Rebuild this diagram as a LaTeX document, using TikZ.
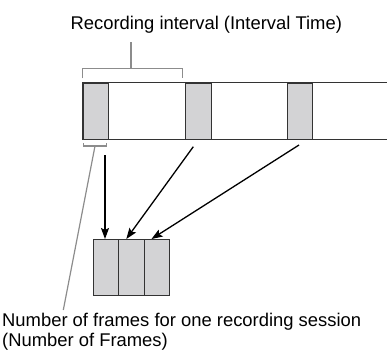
\documentclass[tikz,border=0pt]{standalone}
\usepackage{fontspec}
\setmainfont{Liberation Sans}
\usetikzlibrary{arrows.meta}
\definecolor{cellgray}{HTML}{D3D3D5}
\definecolor{brgray}{HTML}{8C8C8C}
\definecolor{edgegray}{HTML}{333333}
\tikzset{
  cell/.style={draw=edgegray, line width=1pt, fill=cellgray},
  bracket/.style={draw=brgray, line width=1.2pt},
  feed/.style={draw=black, line width=1.3pt, -{Stealth[length=11pt,width=8pt,inset=2pt]}},
  lbl/.style={font=\fontsize{18.4}{20}\selectfont, inner sep=0pt, anchor=base west, align=left}
}
\begin{document}
\begin{tikzpicture}[x=1pt,y=-1pt]
\useasboundingbox (0,0) rectangle (387,350);
% strip
\draw[edgegray, line width=1pt] (387,82.7) -- (82.7,82.7) -- (82.7,139.3) -- (387,139.3);
\node[cell, minimum width=25.6pt, minimum height=56.6pt, inner sep=0pt, anchor=north west] (c1) at (82.7,82.7) {};
\node[cell, minimum width=25.7pt, minimum height=56.6pt, inner sep=0pt, anchor=north west] (c2) at (185,82.7) {};
\node[cell, minimum width=25pt, minimum height=56.6pt, inner sep=0pt, anchor=north west] (c3) at (287.3,82.7) {};
% small block
\node[cell, minimum width=25.6pt, minimum height=56pt, inner sep=0pt, anchor=north west] (b1) at (92.7,239) {};
\node[cell, minimum width=25.7pt, minimum height=56pt, inner sep=0pt, anchor=north west] (b2) at (118.3,239) {};
\node[cell, minimum width=25.3pt, minimum height=56pt, inner sep=0pt, anchor=north west] (b3) at (144,239) {};
% labels
\node[lbl] (top) at (70.4,30) {Recording interval (Interval Time)};
\node[lbl] (bot) at (2,346.7) {Number of frames for one recording session\\(Number of Frames)};
% top bracket
\coordinate (tb) at (131,68.3);
\draw[bracket] (82.7,78.3) -- (82.7,68.3) -- (182.7,68.3) -- (182.7,78.3);
\draw[bracket] (tb) -- (131,41.7);
% bottom bracket
\coordinate (bb) at (95,146);
\draw[bracket] (83.3,143) -- (83.3,146) -- (106.7,146) -- (106.7,143);
\coordinate (be) at (63.3,310);
\draw[bracket] (bb) -- (be);
% arrows
\coordinate (a1) at (105,155);
\coordinate (a2) at (193.3,146.7);
\coordinate (a3) at (299,145);
\draw[feed] (a1) -- (b1.north -| a1);
\draw[feed] (a2) -- ([xshift=8pt]b2.north west);
\draw[feed] (a3) -- ([xshift=7.5pt]b3.north west);
\end{tikzpicture}
\end{document}
